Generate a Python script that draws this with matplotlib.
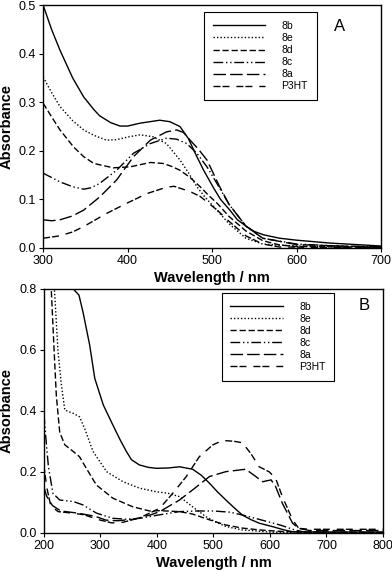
import numpy as np
import matplotlib
matplotlib.use("Agg")
import matplotlib.pyplot as plt

# -----------------------------
# Data
# -----------------------------
names = ["8b", "8e", "8d", "8c", "8a", "P3HT"]

# Panel A - solution spectra
a_8b_x = [300, 310, 320, 335, 348, 360, 367, 380, 391, 400, 415, 438, 450, 462, 472, 482, 490, 501, 510, 521, 530, 541, 550, 561, 580, 600, 620, 640, 670, 700]
a_8b_y = [0.50, 0.45, 0.407, 0.35, 0.311, 0.285, 0.272, 0.258, 0.251, 0.251, 0.257, 0.263, 0.26, 0.25, 0.225, 0.188, 0.16, 0.126, 0.1, 0.078, 0.058, 0.044, 0.034, 0.027, 0.02, 0.016, 0.013, 0.01, 0.007, 0.004]

a_8e_x = [300, 310, 320, 335, 348, 360, 375, 387, 399, 415, 430, 446, 462, 472, 482, 492, 502, 520, 540, 560, 600, 650, 700]
a_8e_y = [0.352, 0.32, 0.291, 0.262, 0.243, 0.232, 0.222, 0.223, 0.228, 0.233, 0.229, 0.215, 0.181, 0.155, 0.126, 0.104, 0.085, 0.05, 0.02, 0.008, 0.004, 0.003, 0.002]

a_8d_x = [300, 310, 320, 336, 348, 360, 383, 403, 427, 442, 452, 462, 474, 486, 496, 506, 520, 540, 560, 580, 600, 700]
a_8d_y = [0.298, 0.27, 0.243, 0.208, 0.188, 0.174, 0.165, 0.167, 0.176, 0.174, 0.168, 0.16, 0.145, 0.126, 0.108, 0.092, 0.065, 0.035, 0.015, 0.006, 0.003, 0.001]

a_8c_x = [300, 320, 335, 348, 357, 367, 387, 407, 427, 446, 458, 470, 482, 494, 505, 520, 540, 560, 600, 650, 700]
a_8c_y = [0.154, 0.136, 0.126, 0.121, 0.124, 0.133, 0.16, 0.195, 0.215, 0.226, 0.224, 0.215, 0.195, 0.167, 0.135, 0.09, 0.045, 0.02, 0.008, 0.004, 0.002]

a_8a_x = [300, 310, 320, 335, 348, 367, 387, 407, 427, 446, 458, 466, 474, 484, 494, 509, 520, 540, 560, 600, 650, 700]
a_8a_y = [0.058, 0.056, 0.058, 0.066, 0.078, 0.105, 0.14, 0.188, 0.222, 0.239, 0.243, 0.238, 0.222, 0.203, 0.181, 0.126, 0.09, 0.045, 0.02, 0.007, 0.004, 0.002]

a_p3ht_x = [300, 320, 335, 348, 360, 375, 399, 423, 446, 455, 462, 474, 486, 496, 506, 520, 540, 560, 580, 700]
a_p3ht_y = [0.02, 0.025, 0.033, 0.044, 0.056, 0.071, 0.092, 0.112, 0.125, 0.127, 0.123, 0.116, 0.106, 0.092, 0.078, 0.055, 0.025, 0.008, 0.002, 0.0]

# Panel B - film spectra
b_8b_x = [220, 240, 252, 262, 269, 281, 290, 305, 322, 335, 346, 355, 369, 385, 399, 420, 440, 463, 478, 493, 507, 522, 537, 551, 566, 581, 604, 625, 640, 700, 800]
b_8b_y = [0.86, 0.83, 0.80, 0.78, 0.726, 0.616, 0.507, 0.42, 0.354, 0.305, 0.267, 0.24, 0.223, 0.215, 0.212, 0.213, 0.217, 0.209, 0.19, 0.163, 0.135, 0.108, 0.082, 0.059, 0.044, 0.032, 0.021, 0.01, 0.004, 0.003, 0.003]

b_8e_x = [212, 218, 225, 231, 237, 252, 263, 272, 287, 311, 340, 369, 399, 420, 440, 463, 487, 505, 522, 551, 600, 650, 800]
b_8e_y = [1.0, 0.82, 0.594, 0.485, 0.403, 0.392, 0.381, 0.343, 0.267, 0.201, 0.168, 0.147, 0.135, 0.13, 0.119, 0.086, 0.053, 0.035, 0.021, 0.01, 0.003, 0.001, 0.0]

b_8d_x = [210, 213, 218, 222, 228, 237, 252, 263, 275, 293, 322, 357, 387, 405, 440, 463, 493, 522, 551, 581, 620, 650, 800]
b_8d_y = [1.0, 0.8, 0.6, 0.45, 0.33, 0.289, 0.267, 0.25, 0.212, 0.157, 0.114, 0.086, 0.072, 0.073, 0.07, 0.062, 0.043, 0.026, 0.016, 0.01, 0.005, 0.003, 0.002]

b_8c_x = [200, 204, 208, 216, 228, 252, 269, 293, 322, 346, 370, 400, 440, 470, 500, 530, 560, 600, 620, 640, 660, 800]
b_8c_y = [0.39, 0.3, 0.217, 0.13, 0.108, 0.103, 0.092, 0.065, 0.048, 0.045, 0.048, 0.058, 0.07, 0.072, 0.072, 0.068, 0.055, 0.035, 0.025, 0.012, 0.003, 0.001]

b_8a_x = [200, 205, 215, 230, 260, 290, 310, 330, 360, 390, 405, 440, 463, 493, 522, 557, 575, 587, 602, 610, 622, 640, 651, 670, 800]
b_8a_y = [0.15, 0.12, 0.09, 0.072, 0.065, 0.055, 0.042, 0.04, 0.045, 0.06, 0.07, 0.108, 0.141, 0.185, 0.201, 0.209, 0.185, 0.168, 0.174, 0.152, 0.097, 0.032, 0.015, 0.008, 0.008]

b_p3ht_x = [200, 205, 212, 225, 250, 270, 300, 320, 340, 370, 405, 428, 452, 475, 499, 516, 535, 551, 566, 581, 599, 610, 622, 640, 651, 670, 800]
b_p3ht_y = [0.22, 0.15, 0.09, 0.07, 0.065, 0.06, 0.042, 0.033, 0.035, 0.05, 0.081, 0.13, 0.185, 0.25, 0.289, 0.303, 0.301, 0.296, 0.261, 0.217, 0.2, 0.179, 0.119, 0.043, 0.015, 0.012, 0.012]

# -----------------------------
# Styles
# -----------------------------
dashes = {
    "8b": (None, None),
    "8e": (1, 1.5),
    "8d": (4.5, 2),
    "8c": (7, 2, 1, 2, 1, 2),
    "8a": (9, 3),
    "P3HT": (5, 1.5, 5, 5),
}

plt.rcParams["font.family"] = ["Liberation Sans", "DejaVu Sans"]

fig = plt.figure(figsize=(3.92, 5.70), dpi=100)
ax1 = fig.add_axes([0.110, 0.565, 0.862, 0.426])
ax2 = fig.add_axes([0.112, 0.065, 0.865, 0.428])


def draw(ax, series):
    for name, (x, y) in zip(names, series):
        ls = "-" if name == "8b" else (0, dashes[name])
        ax.plot(x, y, color="black", lw=1.0, linestyle=ls, label=name)


draw(ax1, [(a_8b_x, a_8b_y), (a_8e_x, a_8e_y), (a_8d_x, a_8d_y),
           (a_8c_x, a_8c_y), (a_8a_x, a_8a_y), (a_p3ht_x, a_p3ht_y)])
draw(ax2, [(b_8b_x, b_8b_y), (b_8e_x, b_8e_y), (b_8d_x, b_8d_y),
           (b_8c_x, b_8c_y), (b_8a_x, b_8a_y), (b_p3ht_x, b_p3ht_y)])

ax1.set_xlim(300, 700)
ax1.set_ylim(0, 0.5)
ax1.set_xticks([300, 400, 500, 600, 700])
ax1.set_yticks([0.0, 0.1, 0.2, 0.3, 0.4, 0.5])
ax1.set_yticklabels(["0.0", "0.1", "0.2", "0.3", "0.4", "0.5"])

ax2.set_xlim(200, 800)
ax2.set_ylim(0, 0.8)
ax2.set_xticks([200, 300, 400, 500, 600, 700, 800])
ax2.set_yticks([0.0, 0.2, 0.4, 0.6, 0.8])
ax2.set_yticklabels(["0.0", "0.2", "0.4", "0.6", "0.8"])

# (axes, panel tag, tag x, tag y, legend upper-left corner)
for ax, tag, tx, ty, corner in [(ax1, "A", 0.876, 0.914, (0.476, 0.971)),
                                (ax2, "B", 0.944, 0.934, (0.524, 0.985))]:
    ax.set_xlabel("Wavelength / nm", fontsize=10.5, fontweight="bold", labelpad=3)
    ax.set_ylabel("Absorbance", fontsize=10.5, fontweight="bold", labelpad=4)
    ax.tick_params(direction="out", length=3, width=0.8, labelsize=9, pad=2)
    for s in ax.spines.values():
        s.set_linewidth(1.0)
    ax.text(tx, ty, tag, transform=ax.transAxes, fontsize=12, ha="center", va="center")
    leg = ax.legend(loc="upper left", bbox_to_anchor=corner, fontsize=7.5,
                    frameon=True, fancybox=False, edgecolor="black", framealpha=1,
                    handlelength=5.0, handletextpad=1.6, labelspacing=0.2,
                    borderpad=0.85, borderaxespad=0)
    leg.get_frame().set_linewidth(0.8)

fig.savefig("out.png", dpi=100)
